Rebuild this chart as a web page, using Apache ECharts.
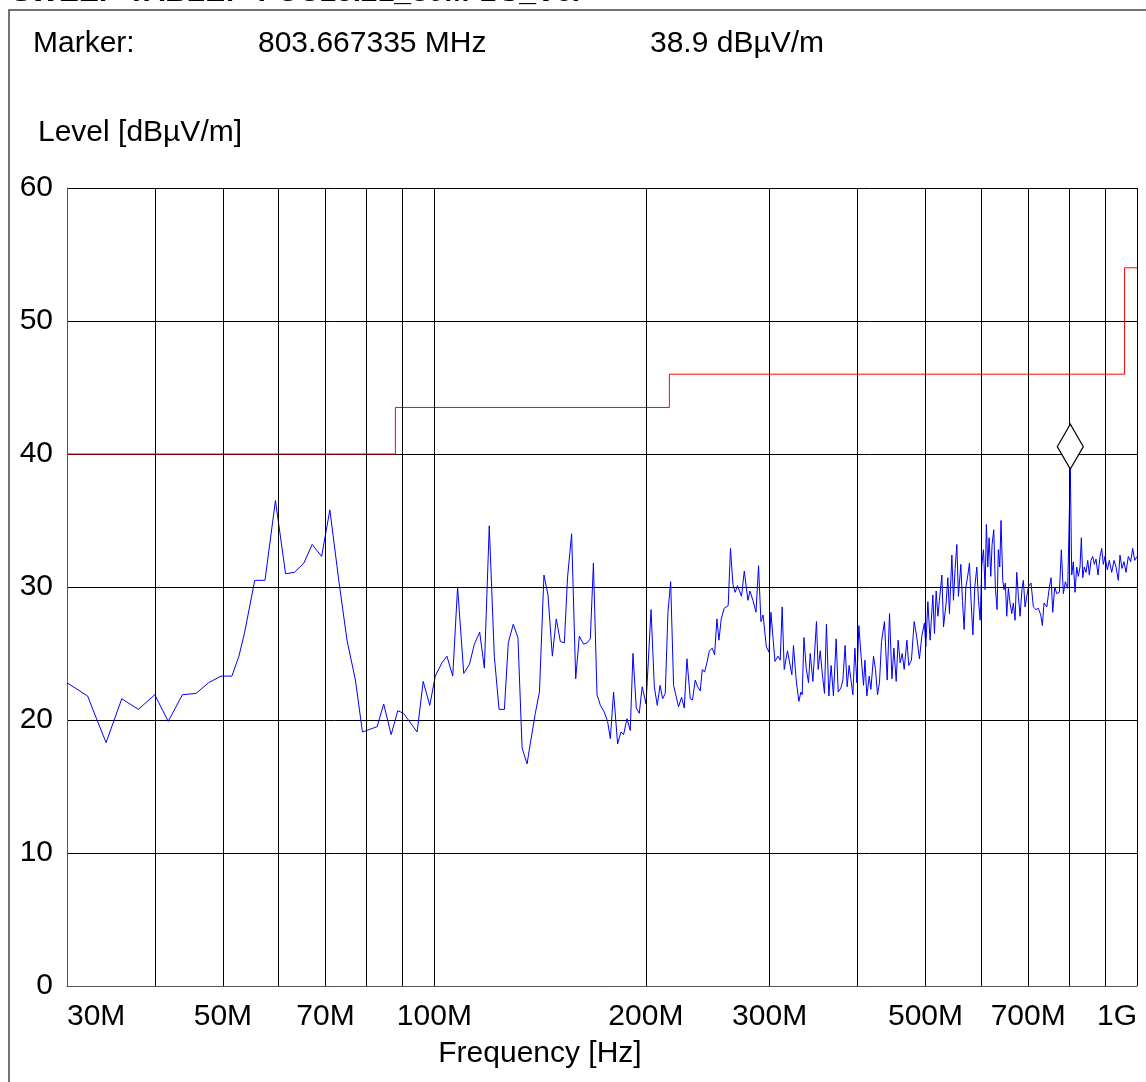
<!DOCTYPE html>
<html>
<head>
<meta charset="utf-8">
<script src="https://cdn.jsdelivr.net/npm/echarts@6.0.0/dist/echarts.min.js"></script>
<style>
  html, body { margin: 0; padding: 0; background: #fff; }
  #chart { width: 1146px; height: 1082px; }
</style>
</head>
<body>
<div id="chart"></div>
<script>
// measured trace, frequency in MHz / level in dBuV/m
const traceFreq = [
  30.0, 32.1, 33.1, 34.1, 35.9, 37.9, 40.0, 41.8, 43.8, 45.8, 47.7, 49.7, 51.5, 52.7, 53.7, 55.5,
  57.4, 59.4, 61.4, 63.2, 65.2, 67.0, 69.1, 71.0, 73.1, 75.1, 77.2, 79.0, 82.9, 84.7, 86.8, 88.7,
  90.4, 94.5, 96.4, 98.5, 100.3, 102.5, 104.2, 106.2, 107.9, 110.1, 112.2, 114.0, 116.0, 117.8, 119.7, 121.7,
  123.6, 125.8, 127.4, 129.5, 131.5, 133.3, 135.5, 136.9, 139.2, 141.1, 143.2, 145.1, 147.2, 149.1, 151.1, 153.1,
  154.7, 156.8, 158.9, 160.8, 163.1, 164.9, 166.7, 168.4, 170.4, 172.3, 174.5, 176.4, 178.0, 179.9, 182.3, 184.3,
  185.9, 188.0, 190.0, 191.7, 193.8, 195.7, 197.6, 200.1, 201.4, 203.4, 205.6, 207.6, 209.5, 211.3, 213.1, 215.0,
  216.9, 219.0, 222.6, 224.8, 226.8, 228.8, 231.3, 233.0, 235.1, 236.9, 239.0, 240.6, 242.4, 244.3, 246.2, 248.6,
  250.5, 252.4, 254.1, 256.0, 258.5, 261.9, 263.9, 266.0, 268.0, 270.0, 273.6, 276.1, 279.4, 281.3, 284.0, 286.9,
  289.3, 291.6, 293.6, 296.8, 299.4, 301.3, 305.3, 308.3, 310.6, 312.6, 314.7, 318.1, 322.7, 324.4, 327.3, 330.2,
  332.4, 333.8, 335.7, 338.2, 340.8, 342.7, 345.7, 347.5, 349.8, 351.7, 354.1, 356.8, 359.1, 361.4, 364.3, 367.0,
  369.8, 373.1, 375.6, 378.9, 381.4, 384.2, 386.8, 389.3, 391.5, 394.1, 396.7, 399.3, 401.9, 405.0, 408.1, 410.0,
  412.6, 415.8, 418.1, 421.7, 424.4, 427.2, 430.0, 432.9, 437.1, 441.0, 444.4, 447.9, 450.8, 454.2, 457.1, 460.2,
  463.2, 466.3, 470.4, 473.4, 477.5, 481.8, 486.0, 490.2, 494.0, 498.3, 500.5, 503.9, 507.6, 512.2, 514.9, 517.8,
  520.7, 523.4, 527.6, 530.4, 535.0, 538.0, 540.9, 545.1, 548.0, 551.0, 554.1, 557.0, 561.4, 564.4, 567.5, 570.7,
  574.5, 577.5, 580.7, 584.0, 587.7, 591.6, 594.8, 598.1, 601.4, 604.6, 607.9, 610.4, 613.2, 615.9, 619.3, 621.9,
  625.4, 628.6, 632.2, 634.8, 637.8, 640.4, 644.1, 646.8, 649.6, 652.5, 656.0, 659.6, 663.4, 666.8, 670.6, 674.3,
  677.9, 681.7, 686.1, 689.1, 692.9, 700.4, 706.6, 712.0, 718.3, 723.7, 729.5, 733.3, 737.4, 744.1, 750.4, 754.6,
  758.7, 763.7, 768.8, 775.4, 780.4, 785.6, 790.7, 796.9, 801.1, 803.667335, 807.4, 811.7, 816.2, 820.7, 825.1, 829.6,
  833.3, 837.1, 841.4, 846.2, 850.9, 855.4, 860.1, 864.9, 869.5, 874.3, 880.0, 885.9, 890.8, 895.5, 900.5, 907.4,
  913.2, 920.4, 927.4, 933.5, 940.6, 945.8, 952.1, 958.3, 964.7, 971.9, 979.5, 986.0, 992.4, 1000.0
]
const traceLevel = [
  22.8, 21.8, 20.0, 18.3, 21.6, 20.8, 21.9, 19.9, 21.9, 22.0, 22.8, 23.3, 23.3, 24.8, 26.6, 30.5,
  30.5, 36.5, 31.0, 31.1, 31.8, 33.2, 32.3, 35.8, 30.5, 26.0, 23.0, 19.1, 19.5, 21.2, 18.9, 20.7,
  20.5, 19.1, 22.9, 21.1, 23.3, 24.3, 24.8, 23.3, 30.0, 23.5, 24.2, 25.7, 26.6, 23.9, 34.6, 24.8,
  20.8, 20.8, 25.8, 27.2, 26.2, 17.9, 16.7, 18.2, 20.5, 22.1, 30.9, 29.4, 24.8, 27.6, 25.9, 25.8,
  30.7, 34.0, 23.1, 26.3, 25.7, 25.8, 26.1, 31.8, 21.9, 21.1, 20.6, 19.9, 18.6, 22.1, 18.2, 19.1,
  18.9, 20.1, 19.2, 25.0, 20.9, 20.5, 22.5, 21.2, 21.2, 28.3, 22.5, 21.1, 22.6, 21.6, 22.0, 28.1,
  30.4, 22.6, 21.0, 21.7, 20.9, 24.6, 21.6, 21.5, 23.0, 22.5, 22.2, 23.8, 23.6, 24.3, 25.2, 25.4,
  24.9, 27.6, 26.0, 27.6, 28.4, 28.6, 32.9, 30.2, 29.6, 30.1, 29.3, 31.2, 29.0, 29.7, 29.0, 28.1,
  31.6, 27.4, 27.9, 25.5, 25.1, 28.1, 24.4, 24.8, 24.5, 28.5, 23.8, 25.2, 23.4, 25.6, 23.0, 21.4,
  22.1, 21.9, 26.2, 23.9, 22.8, 25.0, 22.9, 22.8, 27.4, 23.8, 25.2, 23.3, 22.0, 27.2, 21.8, 24.1,
  21.8, 26.1, 22.1, 22.4, 23.0, 25.6, 22.5, 24.1, 23.1, 21.9, 25.4, 22.8, 27.1, 24.7, 22.6, 24.5,
  21.8, 23.3, 22.3, 24.8, 23.8, 21.9, 22.8, 25.9, 27.4, 23.0, 28.0, 23.1, 25.4, 22.9, 26.0, 24.3,
  25.0, 23.8, 26.0, 24.1, 24.5, 27.4, 26.2, 24.6, 26.3, 27.3, 25.5, 28.9, 26.0, 29.4, 26.5, 29.7,
  27.8, 29.0, 30.9, 27.0, 28.8, 30.7, 28.0, 32.4, 29.0, 31.4, 33.2, 29.3, 31.7, 29.0, 26.8, 30.0,
  30.9, 31.8, 28.8, 26.4, 30.0, 31.5, 29.0, 27.5, 31.7, 32.8, 29.8, 34.7, 31.5, 33.7, 30.8, 33.2,
  34.3, 30.0, 28.3, 32.8, 31.5, 35.0, 30.5, 29.8, 30.3, 27.8, 29.9, 28.8, 28.0, 28.8, 27.5, 31.1,
  29.3, 27.8, 29.9, 30.5, 28.5, 30.0, 30.3, 28.5, 28.3, 28.4, 27.9, 27.1, 28.8, 28.5, 30.0, 30.7,
  28.1, 30.0, 29.5, 29.6, 32.8, 29.5, 30.4, 29.9, 30.0, 38.9, 30.9, 31.9, 29.6, 31.5, 30.8, 31.5,
  33.7, 30.7, 31.5, 31.1, 32.0, 30.9, 32.0, 32.3, 31.7, 32.1, 30.9, 32.3, 32.9, 31.7, 32.3, 31.3,
  32.0, 31.1, 32.0, 31.5, 30.5, 32.4, 31.4, 31.9, 31.1, 32.3, 31.9, 32.9, 32.0, 32.3
]

// limit line (FCC 15.209 style steps)
const limitFreq = [30, 88, 88, 216, 216, 960, 960, 1000]
const limitLevel = [40, 40, 43.5, 43.5, 46, 46, 54, 54]

// vertical grid positions and the labelled ticks
const gridFreq = [40, 50, 60, 70, 80, 90, 100, 200, 300, 400, 500, 600, 700, 800, 900, 1000]
const tickFreq = [30, 50, 70, 100, 200, 300, 500, 700, 1000]
const tickText = ['30M', '50M', '70M', '100M', '200M', '300M', '500M', '700M', '1G']

const markerFreq = 803.667335
const markerLevel = 38.9

const FONT = '"Liberation Sans", Arial, Helvetica, sans-serif'

const chart = echarts.init(document.getElementById('chart'))
const option = {
  animation: false,
  backgroundColor: '#fff',
  grid: { left: 67, right: 9, top: 188, bottom: 96 },
  xAxis: {
    type: 'log',
    logBase: 10,
    min: 30,
    max: 1000,
    axisLine: { show: true, lineStyle: { color: '#555', width: 1 } },
    axisTick: { show: false },
    splitLine: { show: false },
    axisLabel: {
      customValues: tickFreq,
      formatter: v => {
        const i = tickFreq.findIndex(t => Math.abs(t - v) < 1e-6)
        return i >= 0 ? tickText[i] : ''
      },
      alignMinLabel: 'left',
      alignMaxLabel: 'right',
      color: '#000',
      fontFamily: FONT,
      fontSize: 30,
      margin: 16
    }
  },
  yAxis: {
    type: 'value',
    min: 0,
    max: 60,
    interval: 10,
    axisLine: { show: true, lineStyle: { color: '#555', width: 1 } },
    axisTick: { show: false },
    splitLine: { show: true, lineStyle: { color: '#000', width: 1 } },
    axisLabel: { color: '#000', fontFamily: FONT, fontSize: 30, margin: 14 }
  },
  graphic: [
    { type: 'rect', shape: { x: 9, y: 10, width: 1300, height: 1300 },
      style: { fill: 'none', stroke: '#444', lineWidth: 1.5 }, silent: true },
    { type: 'text', style: { x: 12, y: -7, text: 'SWEEP TABLE: "FCC15.21_30M-1G_Ve."',
      font: 'italic bold 30px ' + FONT, fill: '#000', verticalAlign: 'middle' } },
    { type: 'text', style: { x: 33, y: 44, text: 'Marker:', font: '30px ' + FONT, fill: '#000', verticalAlign: 'middle' } },
    { type: 'text', style: { x: 258, y: 44, text: '803.667335 MHz', font: '30px ' + FONT, fill: '#000', verticalAlign: 'middle' } },
    { type: 'text', style: { x: 650, y: 44, text: '38.9 dBµV/m', font: '30px ' + FONT, fill: '#000', verticalAlign: 'middle' } },
    { type: 'text', style: { x: 38, y: 133, text: 'Level [dBµV/m]', font: '30px ' + FONT, fill: '#000', verticalAlign: 'middle' } },
    { type: 'text', style: { x: 540, y: 1054, text: 'Frequency [Hz]', font: '30px ' + FONT, fill: '#000',
      align: 'center', verticalAlign: 'middle' } }
  ],
  series: [
    {
      name: 'grid',
      type: 'line',
      data: [],
      silent: true,
      markLine: {
        silent: true,
        symbol: 'none',
        label: { show: false },
        lineStyle: { color: '#000', width: 1, type: 'solid' },
        data: gridFreq.map(f => ({ xAxis: f }))
      }
    },
    {
      name: 'Limit',
      type: 'line',
      data: limitFreq.map((f, i) => [f, limitLevel[i]]),
      showSymbol: false,
      lineStyle: { color: '#ff0000', width: 1 },
      itemStyle: { color: '#ff0000' },
      z: 3
    },
    {
      name: 'Level',
      type: 'line',
      data: traceFreq.map((f, i) => [f, traceLevel[i]]),
      showSymbol: false,
      lineStyle: { color: '#0000ff', width: 1 },
      itemStyle: { color: '#0000ff' },
      z: 4,
      markPoint: {
        silent: true,
        symbol: 'diamond',
        symbolSize: [26, 45],
        symbolOffset: [0, -22],
        label: { show: false },
        itemStyle: { color: '#fff', borderColor: '#000', borderWidth: 1.3 },
        data: [{ coord: [markerFreq, markerLevel] }]
      }
    }
  ]
}
chart.setOption(option)
</script>
</body>
</html>
